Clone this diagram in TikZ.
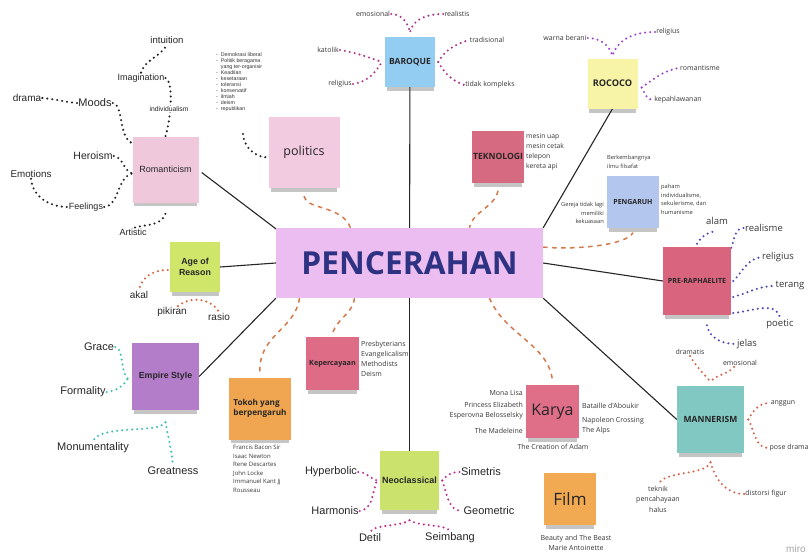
\documentclass[tikz,border=0pt]{standalone}
\usepackage{fontspec}
\setmainfont{Liberation Sans}
\newfontfamily\osf{Open Sans}
\usepackage{tikz}
\usetikzlibrary{backgrounds}
\usetikzlibrary{shadows}
\usetikzlibrary{calc}
\definecolor{cenc}{HTML}{ECBDF0}
\definecolor{centxt}{HTML}{2E3283}
\definecolor{romc}{HTML}{F0C8DC}
\definecolor{polc}{HTML}{F3CBE0}
\definecolor{barc}{HTML}{93CDF2}
\definecolor{rocc}{HTML}{F7F4A8}
\definecolor{tekc}{HTML}{D66A80}
\definecolor{pengc}{HTML}{B3C6EE}
\definecolor{prac}{HTML}{D9647E}
\definecolor{manc}{HTML}{80C8C1}
\definecolor{karc}{HTML}{DF6E88}
\definecolor{filmc}{HTML}{F2AA52}
\definecolor{neoc}{HTML}{CBE36C}
\definecolor{kepc}{HTML}{DE6C86}
\definecolor{tokc}{HTML}{F0A650}
\definecolor{agec}{HTML}{CFE66B}
\definecolor{empc}{HTML}{B47DCA}
\definecolor{dotk}{HTML}{222222}
\definecolor{bard}{HTML}{B0358A}
\definecolor{rocd}{HTML}{9A45CC}
\definecolor{prad}{HTML}{4A48B0}
\definecolor{mand}{HTML}{D2654A}
\definecolor{neod}{HTML}{C0308E}
\definecolor{aged}{HTML}{D8643F}
\definecolor{empd}{HTML}{40C0B5}
\definecolor{dashc}{HTML}{D4794C}
\tikzset{sticky/.style={minimum width=#1, minimum height=#1, inner sep=1pt, align=center, text=black!85, drop shadow={opacity=.3, fill=black!75, shadow xshift=0pt, shadow yshift=-6pt, shadow scale=.94}}}
\tikzset{os/.style={font=\osf\fontsize{#1}{#1}\selectfont, text=black!78, inner sep=1pt}, os/.default=7}
\tikzset{ar/.style={font=\fontsize{#1}{#1}\selectfont, text=black!85, inner sep=1pt}}
\tikzset{dotline/.style={draw=#1, line width=2.3pt, line cap=round, dash pattern=on 0pt off 5pt}}
\tikzset{dashline/.style={draw=dashc, line width=1.5pt, dash pattern=on 4.5pt off 4.5pt}}
\tikzset{spoke/.style={draw=black!85, line width=1.1pt}}

\begin{document}
\begin{tikzpicture}[x=1pt, y=-1pt]
  \useasboundingbox (0,0) rectangle (809,554);
  % centre and topic boxes
  \node[fill=cenc, minimum width=267pt, minimum height=70pt, text=centxt,
    font=\osf\bfseries\fontsize{31.7}{34}\selectfont] (cen) at (409.5,263) {PENCERAHAN};
  \node[sticky=66pt, fill=romc, ar=9] (rom) at (165.5,169.5) {Romanticism};
  \node[sticky=71pt, fill=polc, font=\osf\fontsize{12.5}{14}\selectfont] (pol) at (304,152.5) {politics};
  \node[sticky=50pt, fill=barc, font=\osf\bfseries\fontsize{8.5}{10}\selectfont] (bar) at (410,62) {BAROQUE};
  \node[sticky=50pt, fill=rocc, font=\osf\bfseries\fontsize{9.2}{10}\selectfont] (roc) at (612.5,83.5) {ROCOCO};
  \node[sticky=52pt, fill=tekc, font=\osf\bfseries\fontsize{8.6}{10}\selectfont] (tek) at (498,156.5) {TEKNOLOGI};
  \node[sticky=52pt, fill=pengc, font=\osf\bfseries\fontsize{7}{9}\selectfont] (peng) at (633,201.5) {PENGARUH};
  \node[sticky=68pt, fill=prac, font=\osf\bfseries\fontsize{7.1}{9}\selectfont] (pra) at (697,281) {PRE-RAPHAELITE};
  \node[sticky=67pt, fill=manc, font=\osf\bfseries\fontsize{8.5}{10}\selectfont] (man) at (710.5,419.5) {MANNERISM};
  \node[sticky=53pt, fill=karc, font=\osf\fontsize{16}{18}\selectfont] (kar) at (552.5,411.5) {Karya};
  \node[sticky=52pt, fill=filmc, font=\osf\fontsize{17}{19}\selectfont] (film) at (570,499) {Film};
  \node[sticky=59pt, fill=neoc, font=\bfseries\fontsize{9}{10}\selectfont] (neo) at (409.5,480.5) {Neoclassical};
  \node[sticky=53pt, fill=kepc, font=\osf\bfseries\fontsize{7.2}{9}\selectfont] (kep) at (332.5,363.5) {Kepercayaan};
  \node[sticky=62pt, fill=tokc, align=left, font=\osf\bfseries\fontsize{8.2}{10}\selectfont] (tok) at (260,408.5) {Tokoh yang\\berpengaruh};
  \node[sticky=50pt, fill=agec, font=\bfseries\fontsize{8.8}{10.5}\selectfont] (age) at (195,267) {Age of\\Reason};
  \node[sticky=67pt, fill=empc, font=\bfseries\fontsize{8.8}{10}\selectfont] (emp) at (165.5,376.5) {Empire Style};

  % romanticism
  \node[ar=11] (moods) at (95,103) {Moods};
  \node[ar=10] (drama) at (27,98) {drama};
  \node[ar=9] (imag) at (141,78) {Imagination};
  \node[ar=9.6] (intu) at (167,40) {intuition};
  \node[ar=6.8, fill=white] (indiv) at (169,109) {individualism};
  \node[ar=10.5] (hero) at (93,156) {Heroism};
  \node[ar=9.8] (emo) at (31,174) {Emotions};
  \node[ar=9] (feel) at (86,207) {Feelings};
  \node[ar=9] (art) at (133,232) {Artistic};
  % politics
  \node[anchor=north west, align=left, inner sep=0pt, text=black!80,
    font=\fontsize{5.3}{6.1}\selectfont] (plist) at (216,52)
    {- \ Demokrasi liberal\\- \ Politik beragama\\\phantom{- \ }yang ter-organisir\\- \ Keadilan\\- \ kesetaraan\\- \ toleransi\\- \ konservatif\\- \ ilmiah\\- \ deism\\- \ republikan};
  \coordinate (pl) at (243,134);
  % baroque
  \node[os] (emo2) at (373,14) {emosional};
  \node[os] (real) at (457,14) {realistis};
  \node[os] (kat) at (328,50) {katolik};
  \node[os] (rel) at (340,84) {religius};
  \node[os] (trad) at (487,40) {tradisional};
  \node[os] (tidak) at (490,85) {tidak kompleks};
  % rococo
  \node[os] (warna) at (565,38) {warna berani};
  \node[os] (rel2) at (668,32) {religius};
  \node[os] (roma) at (700,68) {romantisme};
  \node[os] (kepa) at (678,100) {kepahlawanan};
  % teknologi, pengaruh
  \node[anchor=north west, align=left, os, font=\osf\fontsize{6.8}{10}\selectfont] (tlist) at (525,132)
    {mesin uap\\mesin cetak\\telepon\\kereta api};
  \node[anchor=north west, align=left, os, font=\osf\fontsize{5.7}{9}\selectfont] (bkb) at (606,154)
    {Berkembangnya\\ilmu filsafat};
  \node[anchor=north west, align=left, os, font=\osf\fontsize{5.7}{8.5}\selectfont] (paham) at (660,183)
    {paham\\individualisme,\\sekulerisme, dan\\humanisme};
  \node[anchor=north east, align=right, os, font=\osf\fontsize{5.7}{8.5}\selectfont] (grj) at (605,201)
    {Gereja tidak lagi\\memiliki\\kekuasaan};
  % pre-raphaelite
  \node[os=9.5] (alam) at (717,221) {alam};
  \node[os=9.5] (real2) at (764,228) {realisme};
  \node[os=9.5] (rel3) at (778,257) {religius};
  \node[os=9.5] (ter) at (790,286) {terang};
  \node[os=9.5] (poe) at (780,324) {poetic};
  \node[os=9.5] (jel) at (747,344) {jelas};
  % mannerism
  \node[os] (dram) at (690,352) {dramatis};
  \node[os] (emo3) at (740,363) {emosional};
  \node[os] (ang) at (783,403) {anggun};
  \node[os, anchor=west] (pose) at (768.5,448) {pose drama};
  \node[os, align=center, font=\osf\fontsize{7}{10.5}\selectfont] (tekn) at (658,499) {teknik\\pencahayaan\\halus};
  \node[os] (dist) at (766,494) {distorsi figur};
  % karya, film
  \node[os, anchor=east] (mona) at (524,393) {Mona Lisa};
  \node[os, anchor=east, align=right, font=\osf\fontsize{7}{10}\selectfont] (prin) at (524,411) {Princess Elizabeth\\Esperovna Belosselsky};
  \node[os, anchor=east] (made) at (524,431) {The Madeleine};
  \node[os, anchor=west] (bata) at (581,406) {Bataille d'Aboukir};
  \node[os, anchor=west, align=left, font=\osf\fontsize{7}{10}\selectfont] (napo) at (581,426) {Napoleon Crossing\\The Alps};
  \node[os] (crea) at (553,447) {The Creation of Adam};
  \node[os, align=center, font=\osf\fontsize{7}{10}\selectfont] (ftxt) at (576,543) {Beauty and The Beast\\Marie Antoinette};
  % neoclassical
  \node[ar=11] (hyp) at (331,472) {Hyperbolic};
  \node[ar=11] (harm) at (335,511) {Harmonis};
  \node[ar=11] (sim) at (481,472) {Simetris};
  \node[ar=11] (geo) at (489,511) {Geometric};
  \node[ar=11] (det) at (370,538) {Detil};
  \node[ar=11] (seim) at (450,538) {Seimbang};
  % kepercayaan, tokoh
  \node[anchor=north west, align=left, os, font=\osf\fontsize{7}{10}\selectfont] (klist) at (360,340)
    {Presbyterians\\Evangelicalism\\Methodists\\Deism};
  \node[anchor=north west, align=left, os, font=\osf\fontsize{6}{8.5}\selectfont] (tlist2) at (232,444)
    {Francis Bacon Sir\\Isaac Newton\\Rene Descartes\\John Locke\\Immanuel Kant Jj\\Rousseau};
  % age of reason, empire
  \node[ar=10] (akal) at (139,295) {akal};
  \node[ar=10] (pik) at (172,312) {pikiran};
  \node[ar=10] (rasio) at (219,317) {rasio};
  \node[ar=11] (grace) at (99,347) {Grace};
  \node[ar=11] (form) at (83,392) {Formality};
  \node[ar=11] (monu) at (93,448) {Monumentality};
  \node[ar=11] (great) at (173,471) {Greatness};
  \node[ar=10, text=black!35, anchor=west] (wm) at (785,549) {miro};

  \begin{pgfonlayer}{background}
    \fill[white] (0,0) rectangle (809,554);
    % spokes
    \draw[spoke] ([xshift=3pt,yshift=-3pt]rom.east) -- ([xshift=4pt,yshift=-4pt]cen.north west);
    \draw[spoke] (bar) -- (cen);
    \draw[spoke] (roc.south) -- (cen.north east);
    \draw[spoke] (pra.west) -- (cen.east);
    \draw[spoke] (man.west) -- (cen.south east);
    \draw[spoke] (neo) -- (cen);
    \draw[spoke] (emp.east) -- (cen.south west);
    \draw[spoke] (age.east) -- (cen.west);
    % dashed links
    \draw[dashline] ([yshift=-8pt]pol.south) .. controls (306,210) and (342,205) .. ([xshift=-59pt]cen.north);
    \draw[dashline] ([yshift=-8pt]tek.south) .. controls (495,207) and (472,212) .. ([xshift=60pt]cen.north);
    \draw[dashline] ([yshift=16pt]cen.east) .. controls (570,250) and (626,246) .. ([yshift=-5pt]peng.south);
    \draw[dashline] ([xshift=80pt]cen.south) .. controls (505,335) and (550,345) .. ([yshift=3pt]kar.north);
    \draw[dashline] ([xshift=-55pt]cen.south) .. controls (352,315) and (337,318) .. ([yshift=3pt]kep.north);
    \draw[dashline] ([xshift=-110pt]cen.south) .. controls (295,330) and (258,335) .. ([yshift=5pt]tok.north);
    % romanticism
    \draw[dotline=dotk] (drama.east) to[out=-5, in=175] (moods.west);
    \draw[dotline=dotk] (moods.east) .. controls (124,105) and (118,137) .. ([yshift=-7pt]rom.north west);
    \draw[dotline=dotk] (imag.east) .. controls (173,80) and (172,115) .. (rom.north);
    \draw[dotline=dotk] (imag.north) to[out=70, in=-120] (intu.south);
    \draw[dotline=dotk] (hero.east) to[out=-10, in=160] ([yshift=-4pt]rom.west);
    \draw[dotline=dotk] (feel.east) .. controls (120,205) and (116,178) .. ([yshift=-4pt]rom.west);
    \draw[dotline=dotk] (emo.south) to[out=-85, in=180] (feel.west);
    \draw[dotline=dotk] ([xshift=2pt]art.north) to[out=15, in=-110] ([yshift=-11pt]rom.south);
    \draw[dotline=dotk] (pl) to[out=-85, in=180] ([yshift=-5pt]pol.west);
    % baroque
    \draw[dotline=bard] (emo2.east) to[out=0, in=100] ([yshift=4pt]bar.north);
    \draw[dotline=bard] (real.west) to[out=180, in=80] ([yshift=4pt]bar.north);
    \draw[dotline=bard] (kat.east) to[out=-10, in=160] ([xshift=-3pt]bar.west);
    \draw[dotline=bard] (rel.east) to[out=10, in=-120] ([xshift=-3pt]bar.west);
    \draw[dotline=bard] ([xshift=3pt]bar.east) to[out=60, in=200] (trad.west);
    \draw[dotline=bard] ([xshift=3pt]bar.east) to[out=-60, in=160] (tidak.west);
    % rococo
    \draw[dotline=rocd] (warna.east) to[out=0, in=110] ([yshift=3pt]roc.north);
    \draw[dotline=rocd] (rel2.west) to[out=180, in=70] ([yshift=3pt]roc.north);
    \draw[dotline=rocd] ([xshift=4pt,yshift=-4pt]roc.east) to[out=35, in=190] (roma.west);
    \draw[dotline=rocd] ([xshift=4pt,yshift=-4pt]roc.east) to[out=-60, in=180] (kepa.west);
    % pre-raphaelite
    \draw[dotline=prad] ([yshift=3pt]pra.north) to[out=60, in=190] ([yshift=-5pt]alam.south);
    \draw[dotline=prad] ([yshift=-1pt]pra.north east) to[out=70, in=180] (real2.west);
    \draw[dotline=prad] ([xshift=2pt]pra.east) to[out=45, in=190] (rel3.west);
    \draw[dotline=prad] ([xshift=2pt,yshift=-16pt]pra.east) to[out=15, in=180] (ter.west);
    \draw[dotline=prad] ([xshift=2pt,yshift=-32pt]pra.east) to[out=5, in=100] (poe.north);
    \draw[dotline=prad] ([xshift=10pt,yshift=-10pt]pra.south) to[out=-80, in=180] (jel.west);
    % mannerism
    \draw[dotline=mand] (dram.south) to[out=-60, in=130] ([yshift=4pt]man.north);
    \draw[dotline=mand] ([xshift=-6pt]emo3.south) to[out=-130, in=50] ([yshift=4pt]man.north);
    \draw[dotline=mand] ([xshift=4pt]man.east) to[out=60, in=180] (ang.west);
    \draw[dotline=mand] ([xshift=4pt]man.east) to[out=-60, in=180] (pose.west);
    \draw[dotline=mand] ([yshift=-9pt]man.south) .. controls (705,476) and (665,470) .. (tekn.north);
    \draw[dotline=mand] ([yshift=-9pt]man.south) to[out=-75, in=180] (dist.west);
    % neoclassical
    \draw[dotline=neod] (hyp.east) to[out=0, in=160] ([xshift=-3pt]neo.west);
    \draw[dotline=neod] (harm.east) to[out=10, in=-110] ([xshift=-3pt]neo.west);
    \draw[dotline=neod] ([xshift=3pt]neo.east) to[out=50, in=180] (sim.west);
    \draw[dotline=neod] ([xshift=3pt]neo.east) to[out=-70, in=180] (geo.west);
    \draw[dotline=neod] ([yshift=-10pt]neo.south) .. controls (400,527) and (372,524) .. (det.north);
    \draw[dotline=neod] ([yshift=-10pt]neo.south) .. controls (420,527) and (448,524) .. (seim.north);
    % age of reason
    \draw[dotline=aged] ([xshift=-2pt,yshift=-3pt]age.west) to[out=180, in=80] (akal.north);
    \draw[dotline=aged] ([xshift=6pt]pik.north) to[out=40, in=120] (rasio.north);
    % empire style
    \draw[dotline=empd] (grace.east) .. controls (124,348) and (120,372) .. ([xshift=-4pt,yshift=-2pt]emp.west);
    \draw[dotline=empd] (form.east) to[out=10, in=-120] ([xshift=-4pt,yshift=-2pt]emp.west);
    \draw[dotline=empd] ([yshift=-12pt]emp.south) .. controls (160,434) and (98,424) .. (monu.north);
    \draw[dotline=empd] ([yshift=-12pt]emp.south) to[out=-80, in=95] (great.north);
  \end{pgfonlayer}
\end{tikzpicture}
\end{document}
